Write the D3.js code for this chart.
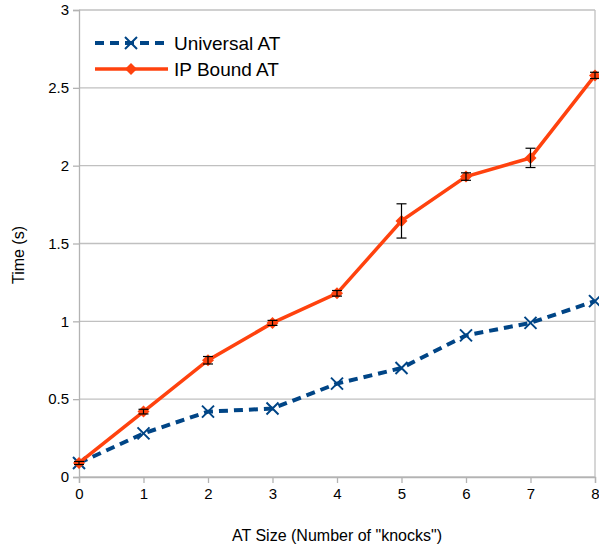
<!DOCTYPE html>
<html><head><meta charset="utf-8">
<script src="https://cdn.jsdelivr.net/npm/d3@7"></script>
<style>body{margin:0;background:#fff}text{font-family:"Liberation Sans",Arial,sans-serif;fill:#000}</style>
</head><body>
<svg id="c" width="599" height="548"></svg>
<script>
const xCats = [0,1,2,3,4,5,6,7,8];
const universal = [0.09,0.28,0.42,0.44,0.60,0.70,0.91,0.99,1.13];
const ipBound = [0.09,0.42,0.75,0.99,1.18,1.645,1.93,2.05,2.58];
const ipErr = [0.01,0.015,0.024,0.016,0.018,0.11,0.024,0.062,0.02];
const yTicks = [0,0.5,1,1.5,2,2.5,3];
const yTickLabels = ["0","0.5","1","1.5","2","2.5","3"];
const seriesNames = ["Universal AT","IP Bound AT"];
const colors = ["#004586","#ff420e"];

const svg = d3.select("#c");
const L=79,R=595,T=10,B=477;
const x = d3.scaleLinear().domain([0,8]).range([L,R]);
const y = d3.scaleLinear().domain([0,3]).range([B,T]);

// gridlines
svg.append("g").selectAll("line").data(yTicks).join("line")
  .attr("x1",L).attr("x2",R).attr("y1",d=>y(d)).attr("y2",d=>y(d))
  .attr("stroke","#c0c0c0").attr("stroke-width",1.3);
svg.append("line").attr("x1",R).attr("x2",R).attr("y1",T).attr("y2",B).attr("stroke","#c0c0c0").attr("stroke-width",1.3);

// axes
const yAx = svg.append("g").attr("transform",`translate(${L},0)`)
  .call(d3.axisLeft(y).tickValues(yTicks).tickFormat((d,i)=>yTickLabels[i]).tickSize(6).tickPadding(4));
const xAx = svg.append("g").attr("transform",`translate(0,${B})`)
  .call(d3.axisBottom(x).tickValues(xCats).tickFormat(d3.format("d")).tickSize(6).tickPadding(5));
[yAx,xAx].forEach(g=>{
  g.select(".domain").attr("stroke","#b3b3b3").attr("stroke-width",1.3);
  g.selectAll(".tick line").attr("stroke","#b3b3b3").attr("stroke-width",1.3);
  g.selectAll("text").attr("font-size",15).attr("font-family","Liberation Sans, Arial, sans-serif").attr("fill","#000");
});

// universal line
const line = d3.line().x((d,i)=>x(xCats[i])).y(d=>y(d));
svg.append("path").datum(universal).attr("d",line).attr("fill","none")
  .attr("stroke",colors[0]).attr("stroke-width",4).attr("stroke-dasharray","9,6");
function cross(g,cx,cy,s,c){
  g.append("path").attr("d",`M${cx-s},${cy-s}L${cx+s},${cy+s}M${cx-s},${cy+s}L${cx+s},${cy-s}`)
   .attr("stroke",c).attr("stroke-width",2);
}
const ug = svg.append("g");
universal.forEach((v,i)=>cross(ug,x(xCats[i]),y(v),6,colors[0]));

// ip line
svg.append("path").datum(ipBound).attr("d",line).attr("fill","none")
  .attr("stroke",colors[1]).attr("stroke-width",3.5);
function diamond(g,cx,cy,s,c){
  g.append("path").attr("d",`M${cx},${cy-s}L${cx+s},${cy}L${cx},${cy+s}L${cx-s},${cy}Z`).attr("fill",c);
}
const ig = svg.append("g");
ipBound.forEach((v,i)=>diamond(ig,x(xCats[i]),y(v),6,colors[1]));
// error bars
const eg = svg.append("g").attr("stroke","#000").attr("stroke-width",1.2);
ipBound.forEach((v,i)=>{
  const cx=x(xCats[i]), y1=y(v+ipErr[i]), y2=y(v-ipErr[i]);
  eg.append("line").attr("x1",cx).attr("x2",cx).attr("y1",y1).attr("y2",y2);
  eg.append("line").attr("x1",cx-5).attr("x2",cx+5).attr("y1",y1).attr("y2",y1);
  eg.append("line").attr("x1",cx-5).attr("x2",cx+5).attr("y1",y2).attr("y2",y2);
});

// legend
const lg = svg.append("g");
lg.append("line").attr("x1",95).attr("x2",168).attr("y1",43).attr("y2",43)
  .attr("stroke",colors[0]).attr("stroke-width",4).attr("stroke-dasharray","9,6");
cross(lg,131,43,6,colors[0]);
lg.append("line").attr("x1",95).attr("x2",168).attr("y1",69).attr("y2",69)
  .attr("stroke",colors[1]).attr("stroke-width",3.5);
diamond(lg,131,69,6,colors[1]);
lg.append("text").attr("x",174).attr("y",50).attr("font-size",19).text(seriesNames[0]);
lg.append("text").attr("x",174).attr("y",76).attr("font-size",19).text(seriesNames[1]);

// titles
svg.append("text").attr("x",337).attr("y",541).attr("text-anchor","middle").attr("font-size",16)
  .text('AT Size (Number of "knocks")');
svg.append("text").attr("transform","translate(24,255) rotate(-90)").attr("text-anchor","middle").attr("font-size",16)
  .text("Time (s)");
</script>
</body></html>
